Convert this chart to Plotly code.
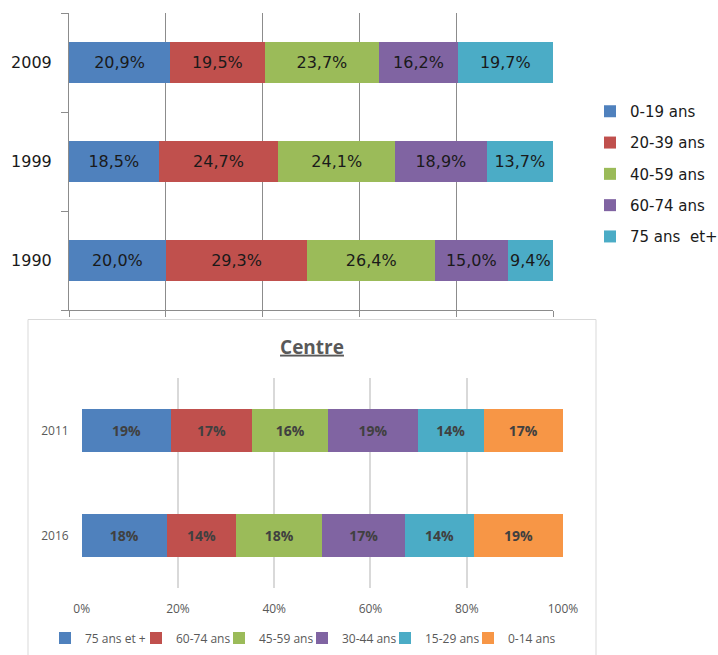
import plotly.graph_objects as go

# ---------- top chart data ----------
top_years = ["1990", "1999", "2009"]
top_groups = ["0-19 ans", "20-39 ans", "40-59 ans", "60-74 ans", "75 ans  et+"]
top_values = {
    "0-19 ans":    [20.0, 18.5, 20.9],
    "20-39 ans":   [29.3, 24.7, 19.5],
    "40-59 ans":   [26.4, 24.1, 23.7],
    "60-74 ans":   [15.0, 18.9, 16.2],
    "75 ans  et+": [9.4, 13.7, 19.7],
}
top_colors = ["#4F81BD", "#C0504D", "#9BBB59", "#8064A2", "#4BACC6"]

# ---------- bottom chart data ----------
bot_years = ["2016", "2011"]
bot_groups = ["75 ans et +", "60-74 ans", "45-59 ans", "30-44 ans", "15-29 ans", "0-14 ans"]
bot_values = {
    "75 ans et +": [17.7, 18.6],
    "60-74 ans":   [14.4, 16.8],
    "45-59 ans":   [17.9, 15.9],
    "30-44 ans":   [17.2, 18.6],
    "15-29 ans":   [14.3, 13.7],
    "0-14 ans":    [18.5, 16.5],
}
bot_colors = ["#4F81BD", "#C0504D", "#9BBB59", "#8064A2", "#4BACC6", "#F79646"]
pct_ticks = [0, 20, 40, 60, 80, 100]
pct_labels = [f"{t}%" for t in pct_ticks]

W, H = 718, 655
def px_x(p):
    return p / W
def px_y(p):
    return 1 - p / H

fig = go.Figure()

for g, c in zip(top_groups, top_colors):
    vals = top_values[g]
    fig.add_trace(go.Bar(
        y=top_years, x=vals, orientation="h", name=g,
        marker=dict(color=c, line=dict(width=0)),
        text=[f"{v:.1f}%".replace(".", ",") for v in vals],
        textposition="inside", insidetextanchor="middle", textangle=0,
        constraintext="none",
        textfont=dict(family="DejaVu Sans", size=16, color="#1a1a1a"),
        xaxis="x", yaxis="y", legend="legend", legendgroup="t_" + g,
        hoverinfo="skip",
    ))

bot_widths = [46, 38, 38, 38, 38, 60]
for g, c, lw in zip(bot_groups, bot_colors, bot_widths):
    vals = bot_values[g]
    fig.add_trace(go.Bar(
        y=bot_years, x=vals, orientation="h", name=g,
        marker=dict(color=c, line=dict(width=0)),
        text=[f"{int(v + 0.5)}%" for v in vals],
        textposition="inside", insidetextanchor="middle", textangle=0,
        constraintext="none",
        textfont=dict(family="Open Sans", size=14, color="#404040", weight="bold"),
        xaxis="x2", yaxis="y2", legend="legend2", legendwidth=lw,
        hoverinfo="skip",
    ))

top_grid = "#8c8c8c"
fig.update_layout(
    width=W, height=H,
    margin=dict(l=0, r=0, t=0, b=0, autoexpand=False),
    paper_bgcolor="white", plot_bgcolor="white",
    barmode="stack", barnorm="percent", bargap=0.59,
    xaxis=dict(domain=[px_x(69), px_x(553)], range=[0, 100], tickvals=pct_ticks,
               showticklabels=False, showgrid=True, gridcolor=top_grid, gridwidth=1,
               ticks="outside", ticklen=6, tickcolor=top_grid, tickwidth=1,
               showline=True, linecolor=top_grid, linewidth=1, zeroline=False,
               anchor="y", fixedrange=True, automargin=False),
    yaxis=dict(domain=[px_y(310), px_y(13)], type="category", categoryorder="array",
               categoryarray=top_years, showgrid=False, tickson="boundaries",
               ticks="outside", ticklen=7, tickcolor=top_grid, tickwidth=1,
               showline=True, linecolor=top_grid, linewidth=1,
               tickfont=dict(family="DejaVu Sans", size=16, color="#1a1a1a"),
               ticklabelstandoff=13, anchor="x", fixedrange=True, automargin=False),
    xaxis2=dict(domain=[px_x(81.7), px_x(563)], range=[0, 100], tickmode="array",
                tickvals=pct_ticks, ticktext=pct_labels,
                showgrid=True, gridcolor="#d9d9d9", gridwidth=1.5,
                showline=False, zeroline=False, ticks="",
                tickfont=dict(family="Open Sans", size=12, color="#595959"),
                ticklabelstandoff=12, anchor="y2", fixedrange=True, automargin=False),
    yaxis2=dict(domain=[px_y(588), px_y(378)], type="category", categoryorder="array",
                categoryarray=bot_years, showgrid=False, showline=False, ticks="",
                tickfont=dict(family="Open Sans", size=12, color="#595959"),
                ticklabelstandoff=12, anchor="x2", fixedrange=True, automargin=False),
    legend=dict(x=px_x(590), y=px_y(95), xanchor="left", yanchor="top",
                orientation="v", traceorder="grouped", tracegroupgap=8.8,
                font=dict(family="DejaVu Sans", size=15, color="#1a1a1a"),
                bgcolor="rgba(0,0,0,0)", borderwidth=0),
    legend2=dict(x=px_x(45), y=px_y(623.5), xanchor="left", yanchor="top",
                 orientation="h", traceorder="normal", entrywidthmode="pixels",
                 font=dict(family="Open Sans", size=12, color="#595959"),
                 bgcolor="rgba(0,0,0,0)", borderwidth=0),
    title=dict(text="<b><u>Centre</u></b>", x=px_x(312), y=px_y(347),
               xref="paper", yref="paper", xanchor="center", yanchor="middle",
               font=dict(family="Open Sans", size=19, color="#595959")),
    shapes=[dict(type="rect", xref="paper", yref="paper",
                 x0=px_x(28), x1=px_x(596), y0=-0.05, y1=px_y(319.5),
                 line=dict(color="#d9d9d9", width=1), fillcolor="rgba(0,0,0,0)",
                 layer="below")],
    showlegend=True,
)

fig.write_html("out.html", config={"displayModeBar": False},
               post_script="document.body.style.margin='0';")
